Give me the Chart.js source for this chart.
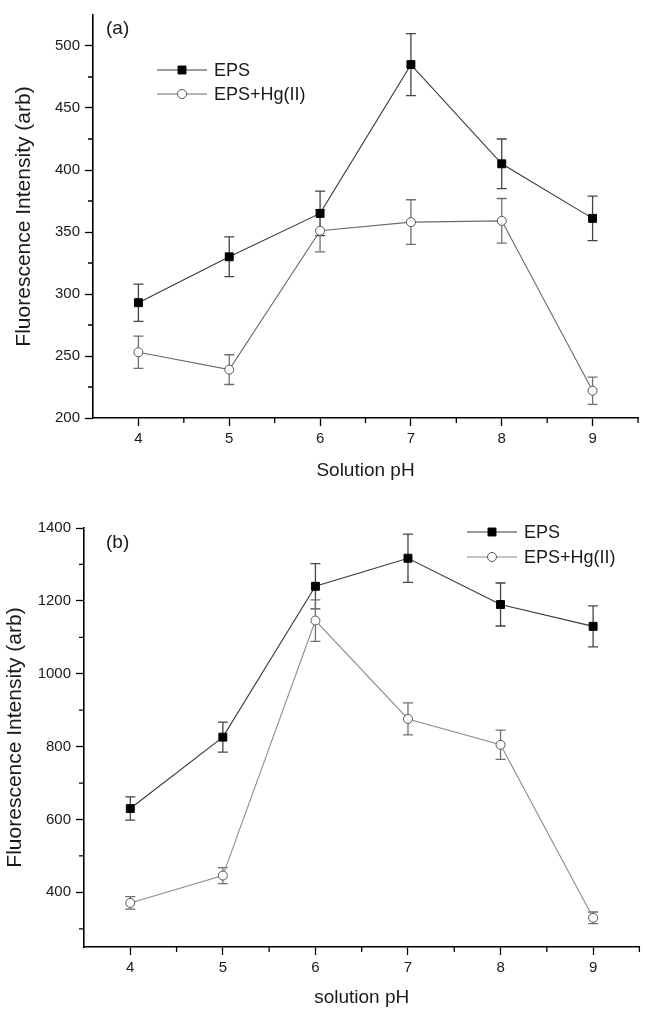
<!DOCTYPE html>
<html>
<head>
<meta charset="utf-8">
<script src="https://cdn.jsdelivr.net/npm/chart.js@4.4.1/dist/chart.umd.min.js"></script>
<style>
  html, body { margin: 0; padding: 0; background: #fff; }
  canvas { display: block; }
</style>
</head>
<body>
<canvas id="chartA" width="646" height="490"></canvas>
<canvas id="chartB" width="646" height="519"></canvas>
<script>
// pH values (shared x axis)
const phValues = [4, 5, 6, 7, 8, 9];

// panel (a)
const epsA = [293, 330, 365, 485, 405, 361];
const epsAErr = [15, 16, 18, 25, 20, 18];
const hgA = [253, 239, 351, 358, 359, 222];
const hgAErr = [13, 12, 17, 18, 18, 11];

// panel (b)
const epsB = [630, 826, 1240, 1317, 1190, 1130];
const epsBErr = [32, 41, 62, 66, 59, 56];
const hgB = [371, 446, 1146, 876, 805, 330];
const hgBErr = [17, 22, 57, 44, 40, 16];

// ticks
const xTicks = [4, 5, 6, 7, 8, 9];
const xMinor = [4.5, 5.5, 6.5, 7.5, 8.5, 9.5];
const yTicksA = [200, 250, 300, 350, 400, 450, 500];
const yMinorA = [225, 275, 325, 375, 425, 475];
const yTicksB = [400, 600, 800, 1000, 1200, 1400];
const yMinorB = [300, 500, 700, 900, 1100, 1300];

const FONT = "'Liberation Sans', Arial, Helvetica, sans-serif";
const TXT = '#1a1a1a';

function toPoints(vals) {
    return phValues.map((x, i) => ({ x: x, y: vals[i] }));
}

// error bars drawn from dataset.errors through the y scale
const errorBarPlugin = {
    id: 'errorBars',
    beforeDatasetsDraw(chart) {
        const ctx = chart.ctx;
        const yScale = chart.scales.y;
        chart.data.datasets.forEach((ds, i) => {
            const meta = chart.getDatasetMeta(i);
            ctx.save();
            ctx.strokeStyle = ds.errorColor;
            ctx.lineWidth = 1.3;
            meta.data.forEach((pt, j) => {
                const v = ds.data[j].y;
                const e = ds.errors[j];
                const yTop = yScale.getPixelForValue(v + e);
                const yBot = yScale.getPixelForValue(v - e);
                ctx.beginPath();
                ctx.moveTo(pt.x, yTop); ctx.lineTo(pt.x, yBot);
                ctx.moveTo(pt.x - 5, yTop); ctx.lineTo(pt.x + 5, yTop);
                ctx.moveTo(pt.x - 5, yBot); ctx.lineTo(pt.x + 5, yBot);
                ctx.stroke();
            });
            ctx.restore();
        });
    }
};

// minor ticks (outward, shorter than the major ones)
const minorTickPlugin = {
    id: 'minorTicks',
    afterDraw(chart, args, opts) {
        const ctx = chart.ctx;
        const area = chart.chartArea;
        ctx.save();
        ctx.strokeStyle = '#000';
        ctx.lineWidth = 1.3;
        ctx.beginPath();
        opts.x.forEach((v) => {
            const px = chart.scales.x.getPixelForValue(v);
            ctx.moveTo(px, area.bottom); ctx.lineTo(px, area.bottom + 5);
        });
        opts.y.forEach((v) => {
            const py = chart.scales.y.getPixelForValue(v);
            ctx.moveTo(area.left, py); ctx.lineTo(area.left - 5, py);
        });
        ctx.stroke();
        ctx.restore();
    }
};

// Origin-style legend (line + marker) and panel letter
const sketchLegendPlugin = {
    id: 'sketchLegend',
    afterDraw(chart, args, opts) {
        const ctx = chart.ctx;
        ctx.save();
        ctx.font = '18px ' + FONT;
        ctx.textBaseline = 'middle';
        chart.data.datasets.forEach((ds, i) => {
            const y = opts.y + i * opts.gap;
            ctx.strokeStyle = ds.borderColor;
            ctx.lineWidth = 1.2;
            ctx.beginPath();
            ctx.moveTo(opts.x, y);
            ctx.lineTo(opts.x + 50, y);
            ctx.stroke();
            ctx.fillStyle = ds.pointBackgroundColor;
            ctx.strokeStyle = ds.pointBorderColor;
            ctx.lineWidth = ds.pointBorderWidth;
            Chart.helpers.drawPoint(ctx, {
                pointStyle: ds.pointStyle,
                radius: ds.pointRadius,
                rotation: 0,
                borderWidth: ds.pointBorderWidth
            }, opts.x + 25, y);
            ctx.fillStyle = TXT;
            ctx.fillText(ds.label, opts.x + 57, y + 1);
        });
        ctx.font = '19px ' + FONT;
        ctx.fillStyle = TXT;
        ctx.fillText(opts.panel, opts.panelX, opts.panelY);
        ctx.restore();
    }
};

function makeChart(id, cfg) {
    const epsColor = cfg.epsLine;
    const hgColor = cfg.hgLine;
    return new Chart(document.getElementById(id), {
        type: 'line',
        data: {
            datasets: [{
                label: 'EPS',
                data: toPoints(cfg.eps),
                errors: cfg.epsErr,
                errorColor: '#444',
                borderColor: epsColor,
                borderWidth: 1.1,
                pointStyle: 'rect',
                pointRadius: 5.6,
                pointBackgroundColor: '#000',
                pointBorderColor: '#000',
                pointBorderWidth: 1,
                tension: 0
            }, {
                label: 'EPS+Hg(II)',
                data: toPoints(cfg.hg),
                errors: cfg.hgErr,
                errorColor: '#707070',
                borderColor: hgColor,
                borderWidth: 1.1,
                pointStyle: 'circle',
                pointRadius: 4.5,
                pointBackgroundColor: '#fff',
                pointBorderColor: '#555',
                pointBorderWidth: 1,
                tension: 0
            }]
        },
        options: {
            responsive: false,
            devicePixelRatio: 1,
            animation: false,
            layout: { padding: cfg.padding },
            plugins: {
                legend: { display: false },
                tooltip: { enabled: false },
                minorTicks: { x: xMinor, y: cfg.yMinor },
                sketchLegend: cfg.legend
            },
            scales: {
                x: {
                    type: 'linear',
                    min: 3.5,
                    max: 9.5,
                    afterBuildTicks: (s) => { s.ticks = xTicks.map((v) => ({ value: v })); },
                    afterFit: (s) => { s.height = cfg.xHeight; },
                    grid: { drawOnChartArea: false, drawTicks: true, tickLength: 8, tickColor: '#000', tickWidth: 1.3 },
                    border: { display: true, color: '#000', width: 1.6 },
                    ticks: { color: TXT, font: { family: FONT, size: 15 }, padding: 4, maxRotation: 0,
                             callback: (v) => String(v) },
                    title: {
                        display: true,
                        text: cfg.xTitle,
                        color: TXT,
                        font: { family: FONT, size: 19 },
                        padding: { top: 0, bottom: cfg.xTitlePad }
                    }
                },
                y: {
                    type: 'linear',
                    min: cfg.yMin,
                    max: cfg.yMax,
                    afterBuildTicks: (s) => { s.ticks = cfg.yTicks.map((v) => ({ value: v })); },
                    afterFit: (s) => { s.width = cfg.yWidth; },
                    grid: { drawOnChartArea: false, drawTicks: true, tickLength: 8, tickColor: '#000', tickWidth: 1.3 },
                    border: { display: true, color: '#000', width: 1.6 },
                    ticks: { color: TXT, font: { family: FONT, size: 15 }, padding: 5,
                             callback: (v) => String(v) },
                    title: {
                        display: true,
                        text: 'Fluorescence Intensity (arb)',
                        color: TXT,
                        font: { family: FONT, size: 21 },
                        padding: { top: cfg.yTitlePad, bottom: 0 }
                    }
                }
            }
        },
        plugins: [errorBarPlugin, minorTickPlugin, sketchLegendPlugin]
    });
}

makeChart('chartA', {
    eps: epsA, epsErr: epsAErr, hg: hgA, hgErr: hgAErr,
    epsLine: '#3a3a3a', hgLine: '#6a6a6a',
    yMin: 200, yMax: 525, yTicks: yTicksA, yMinor: yMinorA,
    padding: { top: 15, right: 8, left: 0, bottom: 0 },
    xHeight: 72, yWidth: 93,
    xTitle: 'Solution pH', xTitlePad: 8, yTitlePad: 12,
    legend: { x: 157, y: 70, gap: 24, panel: '(a)', panelX: 106, panelY: 29 }
});

makeChart('chartB', {
    eps: epsB, epsErr: epsBErr, hg: hgB, hgErr: hgBErr,
    epsLine: '#3a3a3a', hgLine: '#8c8c8c',
    yMin: 250, yMax: 1400, yTicks: yTicksB, yMinor: yMinorB,
    padding: { top: 38, right: 1, left: 0, bottom: 0 },
    xHeight: 62, yWidth: 84,
    xTitle: 'solution pH', xTitlePad: 0, yTitlePad: 3,
    legend: { x: 467, y: 42, gap: 25, panel: '(b)', panelX: 106, panelY: 53 }
});
</script>
</body>
</html>
